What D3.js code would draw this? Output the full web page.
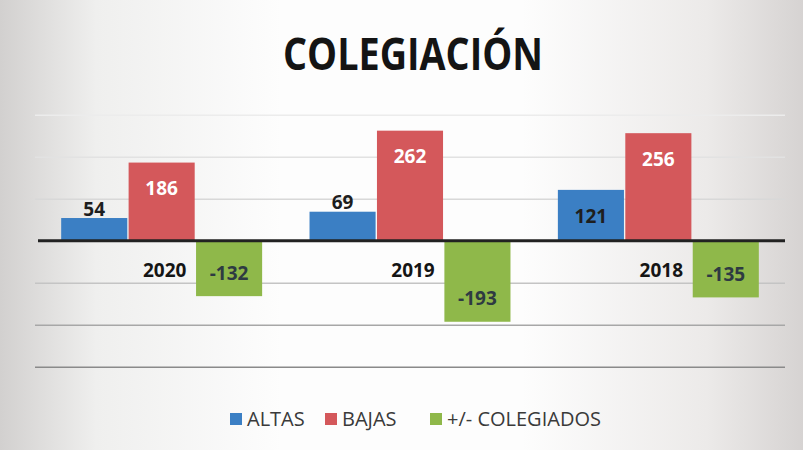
<!DOCTYPE html>
<html>
<head>
<meta charset="utf-8">
<script src="https://cdn.jsdelivr.net/npm/d3@7"></script>
<style>
  html, body { margin: 0; padding: 0; }
  body { width: 803px; height: 450px; overflow: hidden; }
</style>
</head>
<body>
<div id="chart"></div>
<script>
// datos
const years = ['2020', '2019', '2018'];
const series = ['ALTAS', 'BAJAS', '+/- COLEGIADOS'];
const altas = [54, 69, 121];
const bajas = [186, 262, 256];
const netos = [-132, -193, -135];
const yTicks = [-300, -200, -100, 0, 100, 200, 300];

const colors = ['#3b7fc4', '#d4585b', '#8fb84a'];
const labelColors = ['#1e1e1e', '#ffffff', '#2e3a42'];

const width = 803, height = 450;
const margin = {top: 114.7, right: 18, bottom: 83.3, left: 35};
const plotW = width - margin.left - margin.right;
const plotH = height - margin.top - margin.bottom;

const svg = d3.select('#chart').append('svg')
    .attr('width', width)
    .attr('height', height);

// fondo (hoja fotografiada)
const defs = svg.append('defs');
const grad = defs.append('linearGradient')
    .attr('id', 'bg')
    .attr('x1', '0%').attr('x2', '100%')
    .attr('y1', '0%').attr('y2', '0%');
grad.append('stop').attr('offset', '0%').attr('stop-color', '#d2d0cf');
grad.append('stop').attr('offset', '12%').attr('stop-color', '#efefee');
grad.append('stop').attr('offset', '35%').attr('stop-color', '#fdfdfd');
grad.append('stop').attr('offset', '65%').attr('stop-color', '#fdfdfd');
grad.append('stop').attr('offset', '88%').attr('stop-color', '#eceae9');
grad.append('stop').attr('offset', '100%').attr('stop-color', '#d6d3d2');
svg.append('rect')
    .attr('width', width).attr('height', height)
    .attr('fill', 'url(#bg)');

const g = svg.append('g')
    .attr('transform', `translate(${margin.left},${margin.top})`);

const x0 = d3.scaleBand()
    .domain(years)
    .range([0, plotW])
    .paddingInner(0.18)
    .paddingOuter(0.1);

const x1 = d3.scaleBand()
    .domain(series)
    .range([0, x0.bandwidth()])
    .padding(0.02);

const y = d3.scaleLinear()
    .domain([-300, 300])
    .range([plotH, 0]);

// rejilla
const gridColor = d3.scaleLinear()
    .domain([-300, -100, 300])
    .range(['#8a8a8a', '#c4c4c4', '#ececec']);

g.append('g')
    .attr('class', 'grid')
    .call(d3.axisLeft(y)
        .tickValues(yTicks.filter(d => d !== 0))
        .tickSize(-plotW)
        .tickFormat(''))
    .call(s => s.select('.domain').remove())
    .call(s => s.selectAll('.tick line')
        .attr('stroke', d => gridColor(d))
        .attr('stroke-width', 1.6));

// barras
const rows = years.map((yr, i) => ({
    year: yr,
    values: [altas[i], bajas[i], netos[i]]
}));

const groups = g.selectAll('.grp')
    .data(rows)
    .join('g')
    .attr('class', 'grp')
    .attr('transform', d => `translate(${x0(d.year)},0)`);

groups.selectAll('rect')
    .data(d => d.values.map((v, k) => ({v, k})))
    .join('rect')
    .attr('x', d => x1(series[d.k]))
    .attr('width', x1.bandwidth())
    .attr('y', d => y(Math.max(0, d.v)))
    .attr('height', d => Math.abs(y(d.v) - y(0)))
    .attr('fill', d => colors[d.k]);

// etiquetas de datos
groups.selectAll('text.val')
    .data(d => d.values.map((v, k) => ({v, k})))
    .join('text')
    .attr('class', 'val')
    .attr('x', d => x1(series[d.k]) + x1.bandwidth() / 2)
    .attr('y', d => {
        const h = Math.abs(y(d.v) - y(0));
        if (d.v >= 0) {
            return h < 45 ? y(d.v) - 9 : y(d.v) + 26;
        }
        return y(d.v) - 23;
    })
    .attr('dy', '0.35em')
    .attr('text-anchor', 'middle')
    .attr('font-family', 'Open Sans, sans-serif')
    .attr('font-weight', 700)
    .attr('font-size', 19)
    .attr('fill', d => labelColors[d.k])
    .text(d => d.v);

// eje cero
g.append('line')
    .attr('x1', 3).attr('x2', plotW)
    .attr('y1', y(0)).attr('y2', y(0))
    .attr('stroke', '#222')
    .attr('stroke-width', 3);

// años
g.selectAll('text.year')
    .data(years)
    .join('text')
    .attr('class', 'year')
    .attr('x', d => x0(d) + x0.bandwidth() / 2 + 3)
    .attr('y', y(0) + 30)
    .attr('dy', '0.35em')
    .attr('text-anchor', 'middle')
    .attr('font-family', 'Open Sans, sans-serif')
    .attr('font-weight', 700)
    .attr('font-size', 19)
    .attr('fill', '#151515')
    .text(d => d);

// título (Calibri no disponible: se estrecha Open Sans)
svg.append('text')
    .attr('x', 413)
    .attr('y', 70)
    .attr('text-anchor', 'middle')
    .attr('font-family', 'Open Sans, sans-serif')
    .attr('font-weight', 700)
    .attr('font-size', 45)
    .attr('textLength', 260)
    .attr('lengthAdjust', 'spacingAndGlyphs')
    .attr('fill', '#141414')
    .text('COLEGIACIÓN');

// leyenda
const legendX = [230, 325, 430];
const legend = svg.append('g')
    .attr('transform', 'translate(0,419)');

const items = legend.selectAll('g')
    .data(series)
    .join('g')
    .attr('transform', (d, i) => `translate(${legendX[i]},0)`);

items.append('rect')
    .attr('x', 0).attr('y', -6)
    .attr('width', 12).attr('height', 12)
    .attr('fill', (d, i) => colors[i]);

items.append('text')
    .attr('x', 17)
    .attr('dy', '0.35em')
    .attr('font-family', 'Open Sans, sans-serif')
    .attr('font-size', 20)
    .attr('fill', '#3a3a3a')
    .text(d => d);
</script>
</body>
</html>
